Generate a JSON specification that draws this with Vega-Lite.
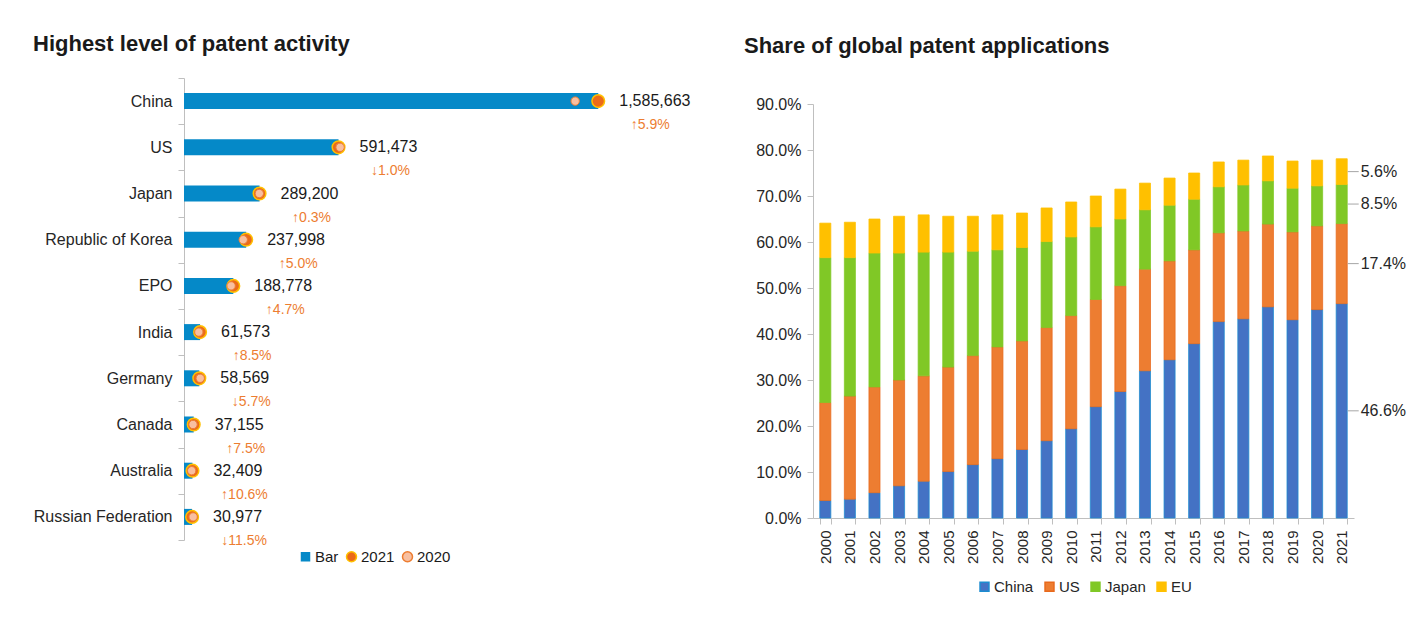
{
  "$schema": "https://vega.github.io/schema/vega-lite/v6.json",
  "background": "white",
  "padding": {"left": 33, "top": 33, "right": 5, "bottom": 5},
  "spacing": 53,
  "datasets": {
    "activity": [
      {"country": "China", "v2021": 1585663, "v2020": 1497321, "growth": "↑5.9%"},
      {"country": "US", "v2021": 591473, "v2020": 597447, "growth": "↓1.0%"},
      {"country": "Japan", "v2021": 289200, "v2020": 288335, "growth": "↑0.3%"},
      {"country": "Republic of  Korea", "v2021": 237998, "v2020": 226665, "growth": "↑5.0%"},
      {"country": "EPO", "v2021": 188778, "v2020": 180304, "growth": "↑4.7%"},
      {"country": "India", "v2021": 61573, "v2020": 56750, "growth": "↑8.5%"},
      {"country": "Germany", "v2021": 58569, "v2020": 62109, "growth": "↓5.7%"},
      {"country": "Canada", "v2021": 37155, "v2020": 34563, "growth": "↑7.5%"},
      {"country": "Australia", "v2021": 32409, "v2020": 29303, "growth": "↑10.6%"},
      {"country": "Russian Federation", "v2021": 30977, "v2020": 35002, "growth": "↓11.5%"}
    ],
    "share": [
      {"year": "2000", "China": 0.038, "US": 0.213, "Japan": 0.315, "EU": 0.075},
      {"year": "2001", "China": 0.041, "US": 0.224, "Japan": 0.301, "EU": 0.077},
      {"year": "2002", "China": 0.055, "US": 0.230, "Japan": 0.291, "EU": 0.074},
      {"year": "2003", "China": 0.070, "US": 0.230, "Japan": 0.276, "EU": 0.080},
      {"year": "2004", "China": 0.080, "US": 0.229, "Japan": 0.269, "EU": 0.081},
      {"year": "2005", "China": 0.101, "US": 0.227, "Japan": 0.250, "EU": 0.078},
      {"year": "2006", "China": 0.116, "US": 0.237, "Japan": 0.227, "EU": 0.076},
      {"year": "2007", "China": 0.129, "US": 0.243, "Japan": 0.211, "EU": 0.076},
      {"year": "2008", "China": 0.149, "US": 0.236, "Japan": 0.203, "EU": 0.075},
      {"year": "2009", "China": 0.168, "US": 0.246, "Japan": 0.187, "EU": 0.073},
      {"year": "2010", "China": 0.194, "US": 0.246, "Japan": 0.171, "EU": 0.076},
      {"year": "2011", "China": 0.242, "US": 0.233, "Japan": 0.158, "EU": 0.067},
      {"year": "2012", "China": 0.275, "US": 0.230, "Japan": 0.145, "EU": 0.065},
      {"year": "2013", "China": 0.320, "US": 0.221, "Japan": 0.129, "EU": 0.058},
      {"year": "2014", "China": 0.344, "US": 0.215, "Japan": 0.121, "EU": 0.059},
      {"year": "2015", "China": 0.379, "US": 0.204, "Japan": 0.110, "EU": 0.057},
      {"year": "2016", "China": 0.427, "US": 0.193, "Japan": 0.100, "EU": 0.054},
      {"year": "2017", "China": 0.433, "US": 0.191, "Japan": 0.100, "EU": 0.054},
      {"year": "2018", "China": 0.459, "US": 0.180, "Japan": 0.094, "EU": 0.054},
      {"year": "2019", "China": 0.431, "US": 0.191, "Japan": 0.095, "EU": 0.059},
      {"year": "2020", "China": 0.453, "US": 0.182, "Japan": 0.087, "EU": 0.056},
      {"year": "2021", "China": 0.466, "US": 0.174, "Japan": 0.085, "EU": 0.056}
    ]
  },
  "config": {
    "font": "Liberation Sans",
    "view": {"stroke": null},
    "axis": {"domainColor": "#BFBFBF", "tickColor": "#BFBFBF", "labelColor": "#262626", "labelFont": "Liberation Sans", "grid": false},
    "legend": {"labelFont": "Liberation Sans", "labelColor": "#262626"}
  },
  "hconcat": [
    {
      "width": 418,
      "height": 462,
      "title": {"text": "Highest level of patent activity", "anchor": "start", "frame": "group", "dx": -151, "offset": 14, "fontSize": 22, "fontWeight": "bold", "font": "Liberation Sans", "color": "#1a1a1a"},
      "data": {"name": "activity"},
      "encoding": {
        "y": {"field": "country", "type": "nominal", "sort": null, "scale": {"paddingInner": 0, "paddingOuter": 0},
              "axis": {"title": null, "tickBand": "extent", "tickSize": 6, "labelPadding": 6, "labelFontSize": 16, "labelColor": "#262626"}}
      },
      "layer": [
        {
          "mark": {"type": "bar", "size": 16},
          "encoding": {
            "x": {"field": "v2021", "type": "quantitative", "scale": {"domain": [0, 1600000], "nice": false}, "axis": null},
            "fill": {"datum": "Bar", "type": "nominal",
                     "scale": {"domain": ["Bar", "2021", "2020"], "range": ["#0589C8", "#EB6A1A", "#F8BFA0"]},
                     "legend": {"orient": "none", "legendX": 114, "legendY": 471, "direction": "horizontal", "title": null,
                                "labelFontSize": 15, "labelColor": "#1a1a1a", "labelOffset": 2, "columnPadding": 4, "symbolSize": 100, "symbolStrokeWidth": 1.5,
                                "encode": {"symbols": {"update": {
                                  "shape": {"signal": "datum.value === 'Bar' ? 'square' : 'circle'"},
                                  "stroke": {"signal": "datum.value === 'Bar' ? '#0589C8' : (datum.value === '2021' ? '#FFC000' : '#ED7D31')"},
                                  "size": {"signal": "datum.value === 'Bar' ? 64 : 100"}
                                }}}}}
          }
        },
        {
          "mark": {"type": "point", "filled": true, "size": 160, "stroke": "#FFC000", "strokeWidth": 1.5, "opacity": 1},
          "encoding": {
            "x": {"field": "v2021", "type": "quantitative"},
            "fill": {"datum": "2021", "type": "nominal"}
          }
        },
        {
          "mark": {"type": "point", "filled": true, "size": 70, "stroke": "#ED7D31", "strokeWidth": 1, "opacity": 1},
          "encoding": {
            "x": {"field": "v2020", "type": "quantitative"},
            "fill": {"datum": "2020", "type": "nominal"}
          }
        },
        {
          "mark": {"type": "text", "align": "left", "baseline": "middle", "dx": 21, "fontSize": 16, "color": "#1a1a1a"},
          "encoding": {
            "x": {"field": "v2021", "type": "quantitative"},
            "text": {"field": "v2021", "type": "quantitative", "format": ","}
          }
        },
        {
          "mark": {"type": "text", "align": "center", "baseline": "middle", "dx": 52, "dy": 24, "fontSize": 14, "color": "#ED7D31"},
          "encoding": {
            "x": {"field": "v2021", "type": "quantitative"},
            "text": {"field": "growth", "type": "nominal"}
          }
        }
      ]
    },
    {
      "width": 541,
      "height": 440,
      "title": {"text": "Share of global patent applications", "anchor": "start", "frame": "group", "dx": -69, "offset": 20, "fontSize": 22, "fontWeight": "bold", "font": "Liberation Sans", "color": "#1a1a1a"},
      "data": {"name": "share"},
      "transform": [
        {"fold": ["China", "US", "Japan", "EU"], "as": ["region", "share"]},
        {"calculate": "indexof(['China','US','Japan','EU'], datum.region)", "as": "ord"}
      ],
      "layer": [
        {
          "mark": {"type": "bar", "strokeWidth": 0.75},
          "encoding": {
            "x": {"field": "year", "type": "ordinal", "scale": {"paddingInner": 0.55, "paddingOuter": 0.275},
                  "axis": {"title": null, "labelAngle": 270, "tickBand": "extent", "tickSize": 6, "labelPadding": 6, "labelFontSize": 15}},
            "y": {"field": "share", "type": "quantitative", "stack": "zero", "scale": {"domain": [0, 0.9], "nice": false, "range": [440, 26]},
                  "axis": {"title": null, "values": [0, 0.1, 0.2, 0.3, 0.4, 0.5, 0.6, 0.7, 0.8, 0.9], "format": ".1%", "tickSize": 6, "labelPadding": 6, "labelFontSize": 16}},
            "order": {"field": "ord", "type": "quantitative"},
            "color": {"field": "region", "type": "nominal",
                      "scale": {"domain": ["China", "US", "Japan", "EU"], "range": ["#4472C4", "#ED7D31", "#80C826", "#FFC000"]},
                      "legend": {"orient": "none", "legendX": 793, "legendY": 501, "direction": "horizontal", "title": null,
                                 "symbolType": "square", "symbolSize": 80, "labelFontSize": 15, "labelOffset": 2, "columnPadding": 8}},
            "stroke": {"field": "region", "type": "nominal",
                       "scale": {"domain": ["China", "US", "Japan", "EU"], "range": ["#1C8CD0", "#E8691C", "#80C826", "#FFC000"]},
                       "legend": null}
          }
        },
        {
          "transform": [
            {"filter": "datum.year === '2021'"},
            {"stack": "share", "groupby": ["year"], "sort": [{"field": "ord"}], "as": ["lo", "hi"]},
            {"calculate": "(datum.lo + datum.hi) / 2", "as": "mid"}
          ],
          "layer": [
            {
              "mark": {"type": "point", "shape": "M1.2,0L3.4,0", "size": 100, "filled": false, "stroke": "#A6A6A6", "strokeWidth": 1, "opacity": 1},
              "encoding": {
                "x": {"field": "year", "type": "ordinal"},
                "y": {"field": "mid", "type": "quantitative"}
              }
            },
            {
              "mark": {"type": "text", "align": "left", "baseline": "middle", "dx": 19, "fontSize": 16, "color": "#262626"},
              "encoding": {
                "x": {"field": "year", "type": "ordinal"},
                "y": {"field": "mid", "type": "quantitative"},
                "text": {"field": "share", "type": "quantitative", "format": ".1%"}
              }
            }
          ]
        }
      ]
    }
  ]
}
